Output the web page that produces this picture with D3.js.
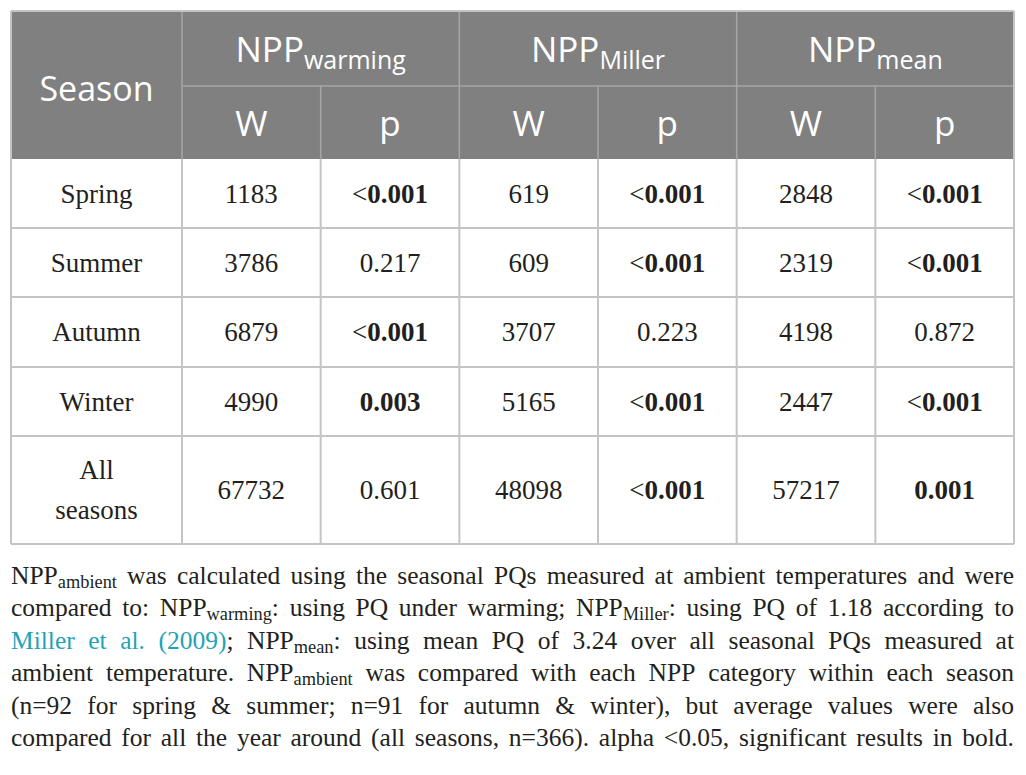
<!DOCTYPE html>
<html>
<head>
<meta charset="utf-8">
<script src="https://cdn.jsdelivr.net/npm/d3@7"></script>
<style>
  html, body { margin: 0; padding: 0; background: #fff; }
  svg { display: block; }
</style>
</head>
<body>
<svg id="chart" width="1026" height="775"></svg>
<script>
// table data
const seasons = ["Spring", "Summer", "Autumn", "Winter", "All seasons"];
const groups = [
  {base: "NPP", sub: "warming"},
  {base: "NPP", sub: "Miller"},
  {base: "NPP", sub: "mean"}
];
const subHeads = ["W", "p"];
const wWarming = ["1183", "3786", "6879", "4990", "67732"];
const pWarming = ["<0.001", "0.217", "<0.001", "0.003", "0.601"];
const wMiller = ["619", "609", "3707", "5165", "48098"];
const pMiller = ["<0.001", "<0.001", "0.223", "<0.001", "<0.001"];
const wMean = ["2848", "2319", "4198", "2447", "57217"];
const pMean = ["<0.001", "<0.001", "0.872", "<0.001", "0.001"];
const alpha = 0.05;

// caption lines: _{..} subscript, [..] link
const captionLines = [
  "NPP_{ambient} was calculated using the seasonal PQs measured at ambient temperatures and were",
  "compared to: NPP_{warming}: using PQ under warming; NPP_{Miller}: using PQ of 1.18 according to",
  "[Miller] [et] [al.] [(2009)]; NPP_{mean}: using mean PQ of 3.24 over all seasonal PQs measured at",
  "ambient temperature. NPP_{ambient} was compared with each NPP category within each season",
  "(n=92 for spring & summer; n=91 for autumn & winter), but average values were also",
  "compared for all the year around (all seasons, n=366). alpha <0.05, significant results in bold."
];

const columns = [wWarming, pWarming, wMiller, pMiller, wMean, pMean];

const svg = d3.select("#chart");
const left = 11, right = 1014, firstColRight = 182;
const headTop = 11, headMid = 86, headBottom = 159;
// body row bounds (last row is taller, two-line label)
const rowEdges = [159, 228, 297, 367, 436, 544];

const headerFill = "#808080";
const gridColor = "#c4c4c4";
const headLine = "#a6a6a6";
const textColor = "#231f20";
const sansFont = "'Open Sans', Lato, sans-serif";
const serifFont = "'Liberation Serif', 'DejaVu Serif', serif";

const x = d3.scaleBand()
    .domain(d3.range(columns.length))
    .range([firstColRight, right]);
const xGroup = d3.scaleBand()
    .domain(d3.range(groups.length))
    .range([firstColRight, right]);
const y = d3.scaleOrdinal()
    .domain(d3.range(seasons.length))
    .range(rowEdges.slice(0, -1));
const rowH = i => rowEdges[i + 1] - rowEdges[i];

// header background
svg.append("rect")
    .attr("x", left).attr("y", headTop)
    .attr("width", right - left).attr("height", headBottom - headTop)
    .attr("fill", headerFill);

// header separators
const hl = svg.append("g").attr("stroke", headLine).attr("stroke-width", 1.5);
hl.append("line")
    .attr("x1", firstColRight).attr("x2", right)
    .attr("y1", headMid).attr("y2", headMid);
hl.selectAll(".gsep")
    .data(d3.range(groups.length))
    .join("line")
    .attr("x1", d => xGroup(d)).attr("x2", d => xGroup(d))
    .attr("y1", headTop).attr("y2", headBottom);
hl.selectAll(".csep")
    .data(d3.range(columns.length).filter(d => d % 2 === 1))
    .join("line")
    .attr("x1", d => x(d)).attr("x2", d => x(d))
    .attr("y1", headMid).attr("y2", headBottom);

// header text
svg.append("text")
    .attr("x", (left + firstColRight) / 2).attr("y", 101)
    .attr("text-anchor", "middle")
    .attr("font-family", sansFont).attr("font-size", 34)
    .attr("fill", "#fff")
    .text("Season");

const gt = svg.selectAll(".grp")
    .data(groups)
    .join("text")
    .attr("x", (d, i) => xGroup(i) + xGroup.bandwidth() / 2)
    .attr("y", 62)
    .attr("text-anchor", "middle")
    .attr("font-family", sansFont)
    .attr("fill", "#fff");
gt.append("tspan").attr("font-size", 35).text(d => d.base);
gt.append("tspan").attr("font-size", 25).attr("dy", 7).text(d => d.sub);

svg.selectAll(".sub")
    .data(d3.range(columns.length))
    .join("text")
    .attr("x", d => x(d) + x.bandwidth() / 2)
    .attr("y", 136)
    .attr("text-anchor", "middle")
    .attr("font-family", sansFont).attr("font-size", 35)
    .attr("fill", "#fff")
    .text(d => subHeads[d % 2]);

// body grid
const grid = svg.append("g").attr("stroke", gridColor).attr("stroke-width", 2).attr("fill", "none");
grid.selectAll(".hr")
    .data(rowEdges.slice(1))
    .join("line")
    .attr("x1", left).attr("x2", right)
    .attr("y1", d => d).attr("y2", d => d);
grid.selectAll(".vr")
    .data(d3.range(columns.length + 1))
    .join("line")
    .attr("x1", d => d === columns.length ? right : x(d))
    .attr("x2", d => d === columns.length ? right : x(d))
    .attr("y1", headBottom).attr("y2", rowEdges[rowEdges.length - 1]);
grid.append("line")
    .attr("x1", left).attr("x2", left)
    .attr("y1", headTop).attr("y2", rowEdges[rowEdges.length - 1]);
grid.append("line")
    .attr("x1", right).attr("x2", right)
    .attr("y1", headTop).attr("y2", headBottom);
grid.append("line")
    .attr("x1", left).attr("x2", right)
    .attr("y1", headTop).attr("y2", headTop);

// season labels
const sl = svg.selectAll(".season")
    .data(seasons)
    .join("text")
    .attr("text-anchor", "middle")
    .attr("font-family", serifFont).attr("font-size", 27)
    .attr("fill", textColor);
sl.each(function(d, i) {
  const cx = (left + firstColRight) / 2;
  const cy = y(i) + rowH(i) / 2;
  const words = d === "All seasons" ? ["All", "seasons"] : [d];
  const lh = 40;
  words.forEach((w, k) => {
    d3.select(this).append("tspan")
        .attr("x", cx)
        .attr("y", cy + 9 + (k - (words.length - 1) / 2) * lh)
        .text(w);
  });
});

// cell values
const isSig = p => p.startsWith("<") || (+p < alpha);
columns.forEach((col, c) => {
  const t = svg.selectAll(".c" + c)
      .data(col)
      .join("text")
      .attr("x", x(c) + x.bandwidth() / 2)
      .attr("y", (d, i) => y(i) + rowH(i) / 2 + 9)
      .attr("text-anchor", "middle")
      .attr("font-family", serifFont).attr("font-size", 27)
      .attr("fill", textColor);
  t.each(function(d) {
    const sel = d3.select(this);
    const bold = c % 2 === 1 && isSig(d);
    if (d.startsWith("<")) {
      sel.append("tspan").text("<");
      sel.append("tspan").attr("font-weight", bold ? "bold" : null).text(d.slice(1));
    } else {
      sel.append("tspan").attr("font-weight", bold ? "bold" : null).text(d);
    }
  });
});

// caption, justified word by word
const capTop = 584, capStep = 32.4, capSize = 25.5;
captionLines.forEach((line, li) => {
  const words = line.split(" ");
  const g = svg.append("g")
      .attr("font-family", serifFont).attr("font-size", capSize)
      .attr("fill", textColor);
  const nodes = words.map(w => {
    const t = g.append("text").attr("y", capTop + li * capStep);
    let shift = 0;
    w.split(/(_\{[^}]*\}|\[[^\]]*\])/).filter(s => s.length).forEach(seg => {
      let ts;
      if (seg.startsWith("_{")) {
        ts = t.append("tspan").attr("font-size", capSize * 0.72).attr("dy", 4 - shift).text(seg.slice(2, -1));
        shift = 4;
        return;
      } else if (seg.startsWith("[")) {
        ts = t.append("tspan").attr("fill", "#1fa3b8").text(seg.slice(1, -1));
      } else {
        ts = t.append("tspan").text(seg);
      }
      if (shift) { ts.attr("dy", -shift); shift = 0; }
    });
    return t;
  });
  const widths = nodes.map(n => n.node().getComputedTextLength());
  const total = d3.sum(widths);
  const gap = (right - left - total) / (nodes.length - 1);
  let cx = left;
  nodes.forEach((n, k) => {
    n.attr("x", cx);
    cx += widths[k] + gap;
  });
});
</script>
</body>
</html>
